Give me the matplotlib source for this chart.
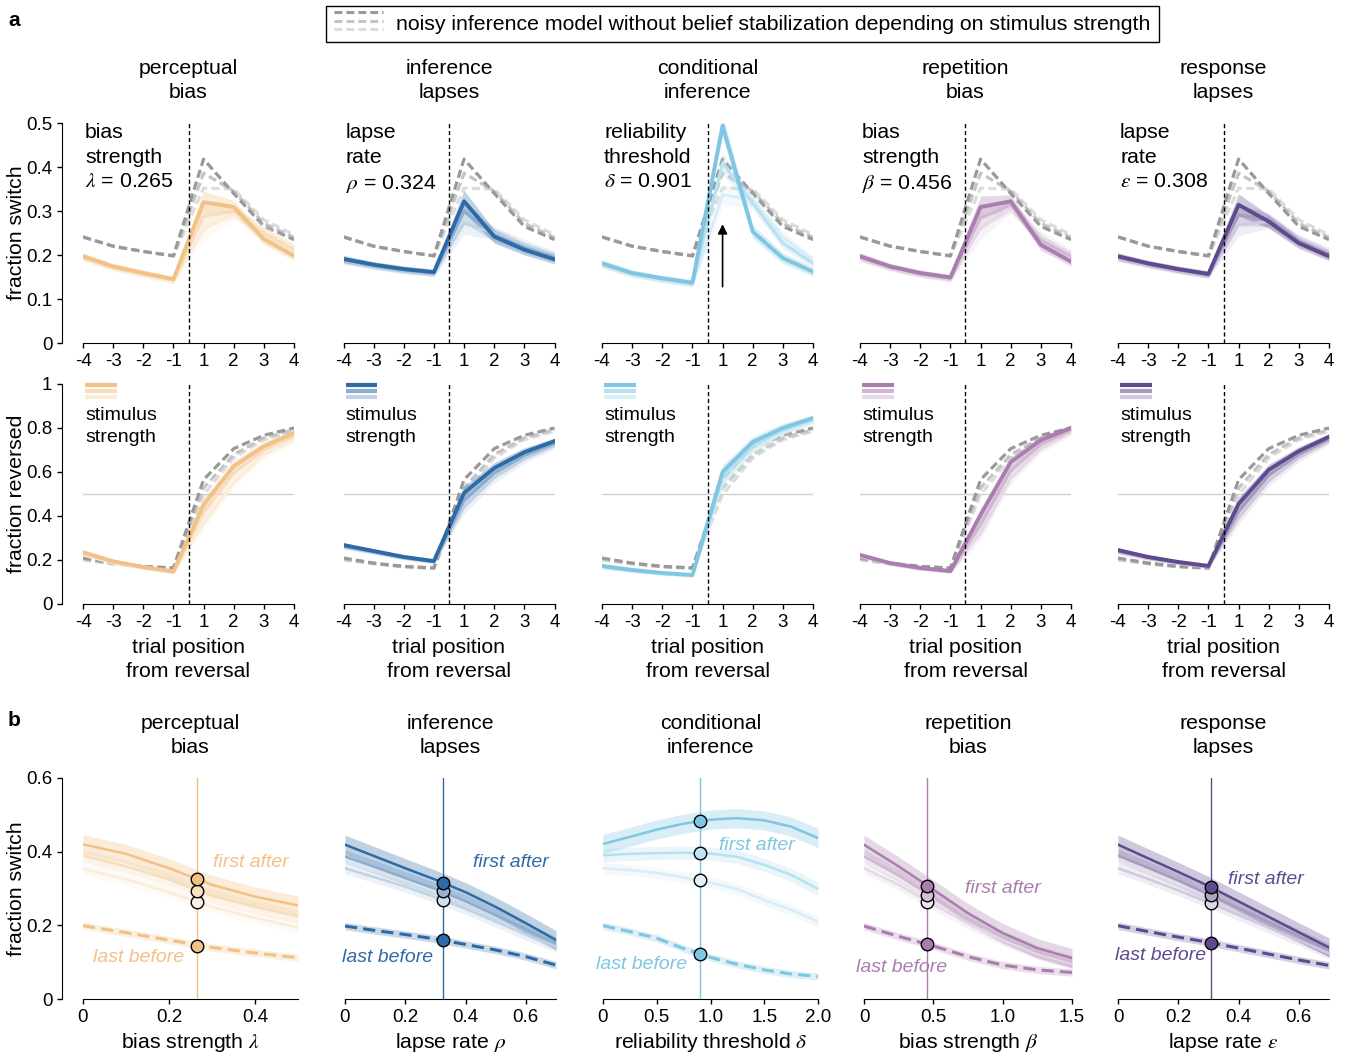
import numpy as np
import matplotlib
matplotlib.use("Agg")
import matplotlib.pyplot as plt
from matplotlib.lines import Line2D
from matplotlib.legend_handler import HandlerBase
from matplotlib.colors import to_rgb

plt.rcParams['font.family'] = ['Liberation Sans', 'DejaVu Sans']
plt.rcParams['mathtext.fontset'] = 'stix'
FS = 15.3      # titles, labels, annotations
FST = 13.5     # tick labels
FSS = 14.0     # small annotations
plt.rcParams['font.size'] = FS

# ---------------- data ----------------
trial_labels = ['-4', '-3', '-2', '-1', '1', '2', '3', '4']
model_titles = ['perceptual\nbias', 'inference\nlapses', 'conditional\ninference',
                'repetition\nbias', 'response\nlapses']
param_texts = ['bias\nstrength\n$\\lambda$ = 0.265', 'lapse\nrate\n$\\rho$ = 0.324',
               'reliability\nthreshold\n$\\delta$ = 0.901', 'bias\nstrength\n$\\beta$ = 0.456',
               'lapse\nrate\n$\\varepsilon$ = 0.308']
param_xlabels = ['bias strength $\\lambda$', 'lapse rate $\\rho$', 'reliability threshold $\\delta$',
                 'bias strength $\\beta$', 'lapse rate $\\varepsilon$']
model_colors = ['#F2C185', '#2E6AA6', '#7EC6E2', '#A97EAE', '#5E4A8C']

# reference model (no belief stabilization), 3 stimulus strengths (strong -> weak)
gray_switch = [[0.241, 0.220, 0.208, 0.198, 0.418, 0.340, 0.265, 0.235],
               [0.241, 0.220, 0.208, 0.198, 0.386, 0.345, 0.272, 0.240],
               [0.241, 0.220, 0.208, 0.198, 0.352, 0.350, 0.280, 0.246]]
gray_reversed = [[0.209, 0.186, 0.171, 0.164, 0.565, 0.706, 0.767, 0.800],
                 [0.205, 0.184, 0.170, 0.163, 0.527, 0.679, 0.755, 0.792],
                 [0.200, 0.182, 0.168, 0.162, 0.497, 0.664, 0.747, 0.785]]

perc_switch = [[0.197, 0.174, 0.159, 0.145, 0.320, 0.309, 0.236, 0.198],
               [0.195, 0.172, 0.157, 0.143, 0.288, 0.300, 0.250, 0.212],
               [0.193, 0.170, 0.155, 0.141, 0.258, 0.295, 0.257, 0.220]]
infl_switch = [[0.191, 0.178, 0.168, 0.161, 0.322, 0.242, 0.212, 0.190],
               [0.189, 0.176, 0.166, 0.159, 0.299, 0.246, 0.217, 0.195],
               [0.187, 0.174, 0.164, 0.157, 0.272, 0.250, 0.223, 0.200]]
cond_switch = [[0.181, 0.159, 0.147, 0.137, 0.494, 0.253, 0.193, 0.162],
               [0.179, 0.157, 0.145, 0.135, 0.409, 0.318, 0.227, 0.181],
               [0.177, 0.155, 0.143, 0.133, 0.337, 0.325, 0.242, 0.189]]
rept_switch = [[0.197, 0.174, 0.159, 0.149, 0.309, 0.322, 0.223, 0.185],
               [0.195, 0.172, 0.157, 0.147, 0.284, 0.314, 0.234, 0.197],
               [0.193, 0.170, 0.155, 0.145, 0.261, 0.310, 0.242, 0.204]]
resp_switch = [[0.197, 0.181, 0.168, 0.157, 0.314, 0.276, 0.227, 0.197],
               [0.195, 0.179, 0.166, 0.155, 0.291, 0.280, 0.232, 0.202],
               [0.193, 0.177, 0.164, 0.153, 0.269, 0.276, 0.234, 0.208]]

perc_reversed = [[0.235, 0.194, 0.168, 0.148, 0.452, 0.626, 0.717, 0.777],
                 [0.230, 0.190, 0.165, 0.146, 0.414, 0.595, 0.700, 0.762],
                 [0.225, 0.186, 0.162, 0.144, 0.368, 0.550, 0.679, 0.747]]
infl_reversed = [[0.268, 0.241, 0.214, 0.195, 0.505, 0.618, 0.690, 0.740],
                 [0.263, 0.237, 0.211, 0.193, 0.470, 0.595, 0.675, 0.730],
                 [0.258, 0.233, 0.208, 0.191, 0.440, 0.575, 0.660, 0.720]]
cond_reversed = [[0.173, 0.155, 0.141, 0.132, 0.600, 0.736, 0.800, 0.845],
                 [0.170, 0.152, 0.139, 0.130, 0.575, 0.720, 0.790, 0.838],
                 [0.167, 0.149, 0.137, 0.128, 0.550, 0.700, 0.778, 0.830]]
rept_reversed = [[0.223, 0.186, 0.164, 0.150, 0.405, 0.645, 0.745, 0.800],
                 [0.220, 0.184, 0.162, 0.148, 0.360, 0.605, 0.725, 0.790],
                 [0.217, 0.182, 0.160, 0.146, 0.320, 0.570, 0.705, 0.780]]
resp_reversed = [[0.245, 0.214, 0.191, 0.173, 0.455, 0.610, 0.695, 0.760],
                 [0.240, 0.210, 0.188, 0.171, 0.420, 0.585, 0.680, 0.750],
                 [0.235, 0.206, 0.185, 0.169, 0.390, 0.560, 0.665, 0.740]]

switch_sem = [0.008, 0.007, 0.007, 0.007, 0.025, 0.015, 0.012, 0.010]
reversed_sem = [0.010, 0.008, 0.008, 0.008, 0.030, 0.025, 0.020, 0.015]

# panel b: fraction switch as a function of model parameter
perc_param = [0.0, 0.1, 0.2, 0.3, 0.4, 0.5]
perc_first = [[0.420, 0.394, 0.355, 0.310, 0.278, 0.254],
              [0.389, 0.360, 0.325, 0.280, 0.250, 0.224],
              [0.353, 0.325, 0.290, 0.250, 0.220, 0.194]]
perc_last = [0.199, 0.180, 0.160, 0.140, 0.125, 0.112]

infl_param = [0.0, 0.1, 0.2, 0.3, 0.4, 0.5, 0.6, 0.7]
infl_first = [[0.419, 0.387, 0.355, 0.324, 0.290, 0.250, 0.206, 0.160],
              [0.387, 0.358, 0.328, 0.299, 0.265, 0.228, 0.190, 0.151],
              [0.355, 0.330, 0.305, 0.276, 0.245, 0.210, 0.175, 0.142]]
infl_last = [0.198, 0.186, 0.175, 0.163, 0.148, 0.133, 0.115, 0.092]

cond_param = [0.0, 0.25, 0.5, 0.75, 1.0, 1.25, 1.5, 1.75, 2.0]
cond_first = [[0.421, 0.440, 0.460, 0.476, 0.487, 0.491, 0.485, 0.468, 0.437],
              [0.390, 0.394, 0.396, 0.397, 0.395, 0.386, 0.364, 0.337, 0.299],
              [0.355, 0.350, 0.342, 0.330, 0.316, 0.298, 0.269, 0.242, 0.210]]
cond_last = [0.199, 0.183, 0.165, 0.137, 0.113, 0.094, 0.079, 0.068, 0.061]

rept_param = [0.0, 0.25, 0.5, 0.75, 1.0, 1.25, 1.5]
rept_first = [[0.419, 0.360, 0.297, 0.233, 0.179, 0.138, 0.111],
              [0.387, 0.335, 0.276, 0.218, 0.168, 0.128, 0.101],
              [0.355, 0.310, 0.256, 0.205, 0.160, 0.122, 0.097]]
rept_last = [0.198, 0.170, 0.144, 0.115, 0.092, 0.079, 0.072]

resp_param = [0.0, 0.1, 0.2, 0.3, 0.4, 0.5, 0.6, 0.7]
resp_first = [[0.419, 0.382, 0.345, 0.307, 0.265, 0.223, 0.181, 0.140],
              [0.389, 0.356, 0.322, 0.284, 0.247, 0.209, 0.171, 0.133],
              [0.355, 0.326, 0.295, 0.262, 0.228, 0.194, 0.159, 0.124]]
resp_last = [0.199, 0.183, 0.168, 0.154, 0.138, 0.122, 0.106, 0.091]

best_params = [0.265, 0.324, 0.901, 0.456, 0.308]
best_first = [[0.326, 0.292, 0.262], [0.316, 0.292, 0.269], [0.484, 0.396, 0.322],
              [0.307, 0.283, 0.262], [0.304, 0.281, 0.260]]
best_last = [0.144, 0.160, 0.121, 0.149, 0.153]
first_band = [0.026, 0.018, 0.015]
last_band = 0.010

param_xlims = [(0, 0.5), (0, 0.7), (0, 2.0), (0, 1.5), (0, 0.7)]
param_xticks = [[0, 0.2, 0.4], [0, 0.2, 0.4, 0.6], [0, 0.5, 1.0, 1.5, 2.0],
                [0, 0.5, 1.0, 1.5], [0, 0.2, 0.4, 0.6]]
param_xticklabels = [['0', '0.2', '0.4'], ['0', '0.2', '0.4', '0.6'],
                     ['0', '0.5', '1.0', '1.5', '2.0'], ['0', '0.5', '1.0', '1.5'],
                     ['0', '0.2', '0.4', '0.6']]
first_label_pos = [(0.39, 0.37), (0.55, 0.371), (1.43, 0.417), (1.0, 0.299), (0.49, 0.324)]
last_label_pos = [(0.13, 0.113), (0.14, 0.113), (0.36, 0.094), (0.27, 0.085), (0.14, 0.117)]

switch_all = [perc_switch, infl_switch, cond_switch, rept_switch, resp_switch]
reversed_all = [perc_reversed, infl_reversed, cond_reversed, rept_reversed, resp_reversed]
param_all = [perc_param, infl_param, cond_param, rept_param, resp_param]
first_all = [perc_first, infl_first, cond_first, rept_first, resp_first]
last_all = [perc_last, infl_last, cond_last, rept_last, resp_last]

# ---------------- style helpers ----------------
W, H = 1345, 1057
fig = plt.figure(figsize=(W / 100, H / 100), dpi=100)

def lighten(c, f):
    r = np.array(to_rgb(c))
    return tuple(r + (1 - r) * f)

level_mix = [0.0, 0.45, 0.7]
level_lw = [2.8, 2.2, 2.0]
gray_cols = ['#999999', '#c4c4c4', '#dcdcdc']
dash = (0, (2.6, 1.3))

def px_axes(left, top, width, height):
    return fig.add_axes([left / W, 1 - (top + height) / H, width / W, height / H])

def style_axes(ax, first):
    for s in ['top', 'right']:
        ax.spines[s].set_visible(False)
    ax.tick_params(direction='out', length=3.6, width=1, labelsize=FST, pad=3.5)
    if first:
        ax.spines['left'].set_position(('outward', 15))
    else:
        ax.spines['left'].set_visible(False)
        ax.tick_params(axis='y', left=False, labelleft=False)

col_left = [83, 343.5, 602, 860, 1118]
x = np.arange(8)

for i in range(5):
    col = model_colors[i]
    # ---- row 1: fraction switch ----
    ax = px_axes(col_left[i], 123, 211, 220)
    style_axes(ax, i == 0)
    for k in [2, 1, 0]:
        ax.plot(x, gray_switch[k], color=gray_cols[k], lw=2.3, ls=dash, zorder=2)
    for k in [2, 1, 0]:
        c = lighten(col, level_mix[k])
        y = np.array(switch_all[i][k])
        s = np.array(switch_sem)
        ax.fill_between(x, y - s, y + s, color=c, alpha=0.3, lw=0, zorder=3)
        ax.plot(x, y, color=c, lw=level_lw[k], zorder=4)
    ax.axvline(3.5, color='black', lw=1, ls=(0, (3, 2)), zorder=5)
    ax.set_xlim(0, 7)
    ax.set_ylim(0, 0.5)
    ax.set_xticks(x)
    ax.set_xticklabels(trial_labels)
    ax.set_yticks([0, 0.1, 0.2, 0.3, 0.4, 0.5])
    ax.set_yticklabels(['0', '0.1', '0.2', '0.3', '0.4', '0.5'])
    ax.set_title(model_titles[i], fontsize=FS, pad=18, linespacing=1.36)
    ax.text(0.01, 1.0, param_texts[i], transform=ax.transAxes, va='top', ha='left',
            fontsize=FS, linespacing=1.38)
    if i == 0:
        ax.set_ylabel('fraction switch', fontsize=FS)
        ax.yaxis.set_label_coords(-0.272, 0.5)
    if i == 2:
        ax.annotate('', xy=(4, 0.27), xytext=(4, 0.128),
                    arrowprops=dict(arrowstyle='-|>', color='black', lw=1.2,
                                    mutation_scale=14, shrinkA=0, shrinkB=0))

    # ---- row 2: fraction reversed ----
    ax = px_axes(col_left[i], 384, 211, 220)
    style_axes(ax, i == 0)
    ax.plot([0, 7], [0.5, 0.5], color='#d0d0d0', lw=1, zorder=1)
    for k in [2, 1, 0]:
        ax.plot(x, gray_reversed[k], color=gray_cols[k], lw=2.3, ls=dash, zorder=2)
    for k in [2, 1, 0]:
        c = lighten(col, level_mix[k])
        y = np.array(reversed_all[i][k])
        s = np.array(reversed_sem)
        ax.fill_between(x, y - s, y + s, color=c, alpha=0.3, lw=0, zorder=3)
        ax.plot(x, y, color=c, lw=level_lw[k], zorder=4)
    ax.axvline(3.5, color='black', lw=1, ls=(0, (3, 2)), zorder=5)
    ax.set_xlim(0, 7)
    ax.set_ylim(0, 1)
    ax.set_xticks(x)
    ax.set_xticklabels(trial_labels)
    ax.set_yticks([0, 0.2, 0.4, 0.6, 0.8, 1.0])
    ax.set_yticklabels(['0', '0.2', '0.4', '0.6', '0.8', '1'])
    ax.set_xlabel('trial position\nfrom reversal', fontsize=FS, linespacing=1.36, labelpad=5)
    for k in range(3):
        ax.plot([0.01, 0.16], [0.995 - 0.028 * k] * 2, transform=ax.transAxes,
                color=lighten(col, level_mix[k]), lw=3, solid_capstyle='butt', clip_on=False)
    ax.text(0.01, 0.895, 'stimulus\nstrength', transform=ax.transAxes, va='top', ha='left',
            fontsize=FSS, linespacing=1.4)
    if i == 0:
        ax.set_ylabel('fraction reversed', fontsize=FS)
        ax.yaxis.set_label_coords(-0.272, 0.5)

# ---- row 3: panel b ----
b_left = [83, 345, 603, 864, 1118]
b_width = [215, 211, 215, 208, 211]
for i in range(5):
    col = model_colors[i]
    ax = px_axes(b_left[i], 778, b_width[i], 221)
    style_axes(ax, i == 0)
    px = np.array(param_all[i])
    for k in [2, 1, 0]:
        c = lighten(col, level_mix[k])
        y = np.array(first_all[i][k])
        ax.fill_between(px, y - first_band[k], y + first_band[k], color=c, alpha=0.3, lw=0, zorder=2)
        ax.plot(px, y, color=c, lw=1.8, zorder=3)
    yl = np.array(last_all[i])
    ax.fill_between(px, yl - last_band, yl + last_band, color=col, alpha=0.25, lw=0, zorder=2)
    ax.plot(px, yl, color=col, lw=2.2, ls=(0, (4, 2)), zorder=3)
    ax.axvline(best_params[i], color=col, lw=1, zorder=4)
    for k in [2, 1, 0]:
        ax.plot([best_params[i]], [best_first[i][k]], 'o', ms=9, mfc=lighten(col, [0, 0.5, 0.78][k]),
                mec='black', mew=1, zorder=6)
    ax.plot([best_params[i]], [best_last[i]], 'o', ms=9, mfc=col, mec='black', mew=1, zorder=6)
    ax.text(*first_label_pos[i], 'first after', color=col, style='italic', ha='center', va='center',
            fontsize=FSS, zorder=7)
    ax.text(*last_label_pos[i], 'last before', color=col, style='italic', ha='center', va='center',
            fontsize=FSS, zorder=7)
    ax.set_xlim(*param_xlims[i])
    ax.set_ylim(0, 0.6)
    ax.set_xticks(param_xticks[i])
    ax.set_xticklabels(param_xticklabels[i])
    ax.set_yticks([0, 0.2, 0.4, 0.6])
    ax.set_yticklabels(['0', '0.2', '0.4', '0.6'])
    ax.set_xlabel(param_xlabels[i], fontsize=FS, labelpad=4)
    ax.set_title(model_titles[i], fontsize=FS, pad=18, linespacing=1.36)
    if i == 0:
        ax.set_ylabel('fraction switch', fontsize=FS)
        ax.yaxis.set_label_coords(-0.267, 0.5)

# ---- top legend ----
class StackHandler(HandlerBase):
    def create_artists(self, legend, orig_handle, xdescent, ydescent, width, height, fontsize, trans):
        arts = []
        for k in range(3):
            yy = height * (1.15 - 0.55 * k) - ydescent
            ln = Line2D([-xdescent, width - xdescent], [yy, yy], color=gray_cols[k], lw=2.2, ls=dash)
            ln.set_transform(trans)
            arts.append(ln)
        return arts

proxy = Line2D([], [])
leg = fig.legend([proxy], ['noisy inference model without belief stabilization depending on stimulus strength'],
                 handler_map={Line2D: StackHandler()}, loc='upper center',
                 bbox_to_anchor=(742 / W, 1 - 6 / H), frameon=True, fancybox=False,
                 edgecolor='black', framealpha=1, handlelength=2.3, handletextpad=0.6,
                 borderpad=0.4, borderaxespad=0, fontsize=FS)
leg.get_frame().set_linewidth(1)

fig.text(8 / W, 1 - 20 / H, 'a', fontsize=15, fontweight='bold', va='center', ha='left')
fig.text(8 / W, 1 - 720 / H, 'b', fontsize=15, fontweight='bold', va='center', ha='left')

fig.savefig('out.png', dpi=100)
